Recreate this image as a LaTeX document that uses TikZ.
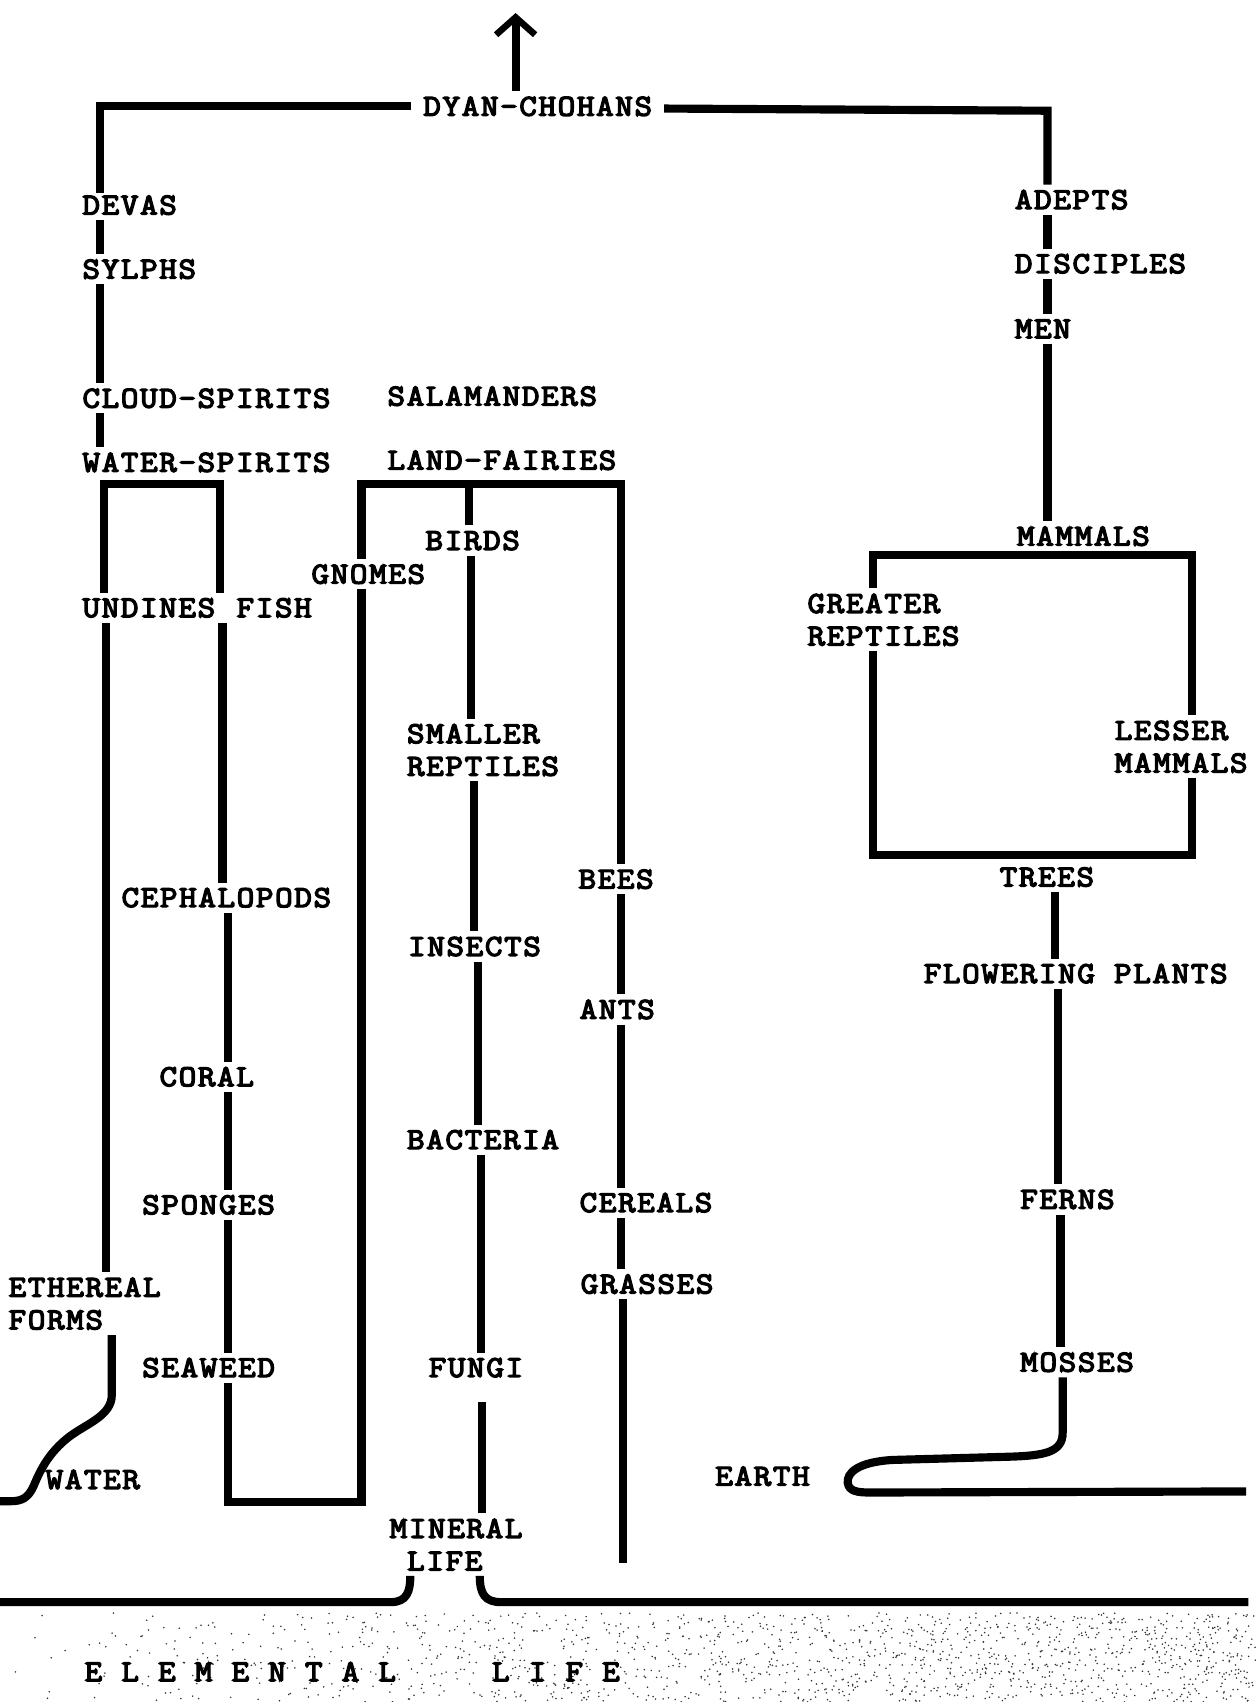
\documentclass[tikz,border=0pt]{standalone}
\usepackage{fontspec}
\newfontfamily\twfont{Latin Modern Mono}[FakeBold=4.5,FakeStretch=1.12,LetterSpace=5.5]
\usetikzlibrary{arrows.meta}
\begin{document}
\begin{tikzpicture}[x=1pt,y=-1pt,
  lbl/.style={anchor=west,xshift=-5pt,inner sep=5pt,outer sep=0pt,align=left,
    font=\twfont\fontsize{28}{30}\selectfont},
  ln/.style={line width=7.5pt,line cap=butt,line join=miter}]
\fill[white] (0,0) rectangle (1157,1568);
\useasboundingbox (0,0) rectangle (1157,1568);

% ---------- scanner speckle round the bottom band ----------
\pgfmathsetseed{4217}
\foreach \i in {1,...,1500}{
  \pgfmathsetmacro{\rx}{1157*pow(rnd,0.55)}
  \pgfmathsetmacro{\ry}{1486+82*rnd}
  \fill[black!80] (\rx,\ry) circle (0.8pt);
}

% ---------- labels ----------
\node[lbl] (dyan)      at (390,98)   {DYAN-CHOHANS};
\node[lbl] (devas)     at (76,189)   {DEVAS};
\node[lbl] (sylphs)    at (76,248)   {SYLPHS};
\node[lbl] (cloud)     at (76,367)   {CLOUD-SPIRITS};
\node[lbl] (waters)    at (76,426)   {WATER-SPIRITS};
\node[lbl] (salam)     at (357,365)  {SALAMANDERS};
\node[lbl] (land)      at (357,424)  {LAND-FAIRIES};
\node[lbl] (adepts)    at (935,184)  {ADEPTS};
\node[lbl] (disciples) at (935,243)  {DISCIPLES};
\node[lbl] (men)       at (935,303)  {MEN};
\node[lbl] (mammals)   at (937,494)  {MAMMALS};
\node[lbl] (greater)   at (744,571)  {GREATER\\REPTILES};
\node[lbl] (lesser)    at (1027,688) {LESSER\\MAMMALS};
\node[lbl] (trees)     at (921,808)  {TREES};
\node[lbl] (flowering) at (851,897)  {FLOWERING PLANTS};
\node[lbl] (ferns)     at (940,1105) {FERNS};
\node[lbl] (mosses)    at (940,1255) {MOSSES};
\node[lbl] (earth)     at (659,1360) {EARTH};
\node[lbl] (birds)     at (392,498)  {BIRDS};
\node[lbl] (gnomes)    at (287,529)  {GNOMES};
\node[lbl] (undines)   at (76,560)   {UNDINES};
\node[lbl] (fish)      at (218,560)  {FISH};
\node[lbl] (smaller)   at (375,691)  {SMALLER\\REPTILES};
\node[lbl] (bees)      at (533,810)  {BEES};
\node[lbl] (cephal)    at (112,827)  {CEPHALOPODS};
\node[lbl] (insects)   at (376,872)  {INSECTS};
\node[lbl] (ants)      at (534,930)  {ANTS};
\node[lbl] (coral)     at (147,992)  {CORAL};
\node[lbl] (bacteria)  at (375,1050) {BACTERIA};
\node[lbl] (sponges)   at (131,1110) {SPONGES};
\node[lbl] (cereals)   at (534,1108) {CEREALS};
\node[lbl] (grasses)   at (535,1183) {GRASSES};
\node[lbl] (ethereal)  at (8,1201)   {ETHEREAL\\FORMS};
\node[lbl] (seaweed)   at (131,1260) {SEAWEED};
\node[lbl] (fungi)     at (395,1260) {FUNGI};
\node[lbl] (water)     at (42,1363)  {WATER};
\node[lbl] (mineral)   at (359,1423) {MINERAL\\\phantom{M}LIFE};
\node[lbl] (elemental) at (78,1540)  {E~L~E~M~E~N~T~A~L~~~~~L~I~F~E};

% ---------- column and bar coordinates ----------
\coordinate (cArrow) at (475,0);
\coordinate (cA)  at (92,0);
\coordinate (cR)  at (965,0);
\coordinate (cWL) at (96,0);
\coordinate (cWR) at (203,0);
\coordinate (cU)  at (98,0);
\coordinate (cF)  at (205,0);
\coordinate (cS)  at (210,0);
\coordinate (cG)  at (333,0);
\coordinate (cBi) at (432,0);
\coordinate (cBe) at (572,0);
\coordinate (cMl) at (804,0);
\coordinate (cMr) at (1098,0);
\coordinate (wbar) at (0,446);
\coordinate (lbar) at (0,446);
\coordinate (sbar) at (0,1384);
\coordinate (mbar) at (0,511);
\coordinate (tbar) at (0,788);
\coordinate (arrowtip) at (475,12);

% ---------- connectors ----------
\draw[ln,-{Straight Barb[length=16pt,width=36pt,line width=6pt]}]
  (cArrow |- dyan.north) -- (arrowtip);
\draw[ln] ([xshift=-6pt]dyan.west) -- (cA |- dyan.west) -- ([yshift=-3pt]cA |- devas.north);
\draw[ln] ([xshift=6pt,yshift=-2pt]dyan.east) -- ([yshift=-4pt]cR |- dyan.east) -- (cR |- adepts.north);
\draw[ln] (cA |- devas.south) -- (cA |- sylphs.north);
\draw[ln] (cA |- sylphs.south) -- (cA |- cloud.north);
\draw[ln] (cA |- cloud.south) -- (cA |- waters.north);
\draw[ln] (cR |- adepts.south) -- (cR |- disciples.north);
\draw[ln] (cR |- disciples.south) -- (cR |- men.north);
\draw[ln] (cR |- men.south) -- (cR |- mammals.north);

% water-spirits bracket
\draw[ln] (cWL |- undines.north) -- (cWL |- wbar) -- (cWR |- wbar) -- (cWR |- fish.north);
\draw[ln] (cU |- undines.south) -- (cU |- ethereal.north);
\draw[ln] (cF |- fish.south) -- (cF |- cephal.north);
\draw[ln] (cS |- cephal.south) -- (cS |- coral.north);
\draw[ln] (cS |- coral.south) -- (cS |- sponges.north);
\draw[ln] (cS |- sponges.south) -- (cS |- seaweed.north);
\draw[ln] (cS |- seaweed.south) -- (cS |- sbar) -- (cG |- sbar) -- (cG |- gnomes.south);

% land-fairies bracket
\draw[ln] (cG |- gnomes.north) -- (cG |- lbar) -- (cBe |- lbar) -- (cBe |- bees.north);
\draw[ln] (cBi |- lbar) -- (cBi |- birds.north);
\draw[ln] (434,0 |- birds.south) -- (434,0 |- smaller.north);
\draw[ln] (437,0 |- smaller.south) -- (437,0 |- insects.north);
\draw[ln] (440,0 |- insects.south) -- (440,0 |- bacteria.north);
\draw[ln] (443,0 |- bacteria.south) -- (443,0 |- fungi.north);
\draw[ln] (444,1292) -- (444,0 |- mineral.north);
\draw[ln] (cBe |- bees.south) -- (cBe |- ants.north);
\draw[ln] (cBe |- ants.south) -- (cBe |- cereals.north);
\draw[ln] (cBe |- cereals.south) -- (cBe |- grasses.north);
\coordinate (grassend) at (574,1440);
\draw[ln] (574,0 |- grasses.south) -- (grassend);

% mammals box
\draw[ln] (cMl |- greater.north) -- (cMl |- mbar) -- (cMr |- mbar) -- (cMr |- lesser.north);
\draw[ln] (cMl |- greater.south) -- (cMl |- tbar) -- (cMr |- tbar) -- (cMr |- lesser.south);

% plants
\draw[ln] (972,0 |- trees.south) -- (972,0 |- flowering.north);
\draw[ln] (975,0 |- flowering.south) -- (975,0 |- ferns.north);
\draw[ln] (977,0 |- ferns.south) -- (977,0 |- mosses.north);
\coordinate (earthend) at (1148,1374);
\draw[ln] (979,0 |- mosses.south) -- (979,1320)
  .. controls (979,1338) and (962,1341) .. (930,1342)
  -- (822,1345)
  .. controls (790,1347) and (780,1357) .. (781,1366)
  .. controls (782,1374) and (790,1375) .. (802,1375)
  -- (earthend);

% ethereal forms to water
\coordinate (waterend) at (0,1383);
\draw[ln] (103,0 |- ethereal.south) -- (103,1285)
  .. controls (103,1305) and (78,1312) .. (62,1325)
  .. controls (46,1338) and (38,1352) .. (31,1369)
  .. controls (26,1380) and (20,1383) .. (10,1383)
  -- (waterend);

% ground lines
\coordinate (gl) at (0,1476);
\coordinate (gr) at (1150,1476);
\draw[ln] (gl) -- (360,1476) .. controls (375,1476) and (378,1466) .. (378,0 |- mineral.south);
\draw[ln] (442,0 |- mineral.south) .. controls (442,1469) and (447,1476) .. (462,1476) -- (gr);
\end{tikzpicture}
\end{document}
